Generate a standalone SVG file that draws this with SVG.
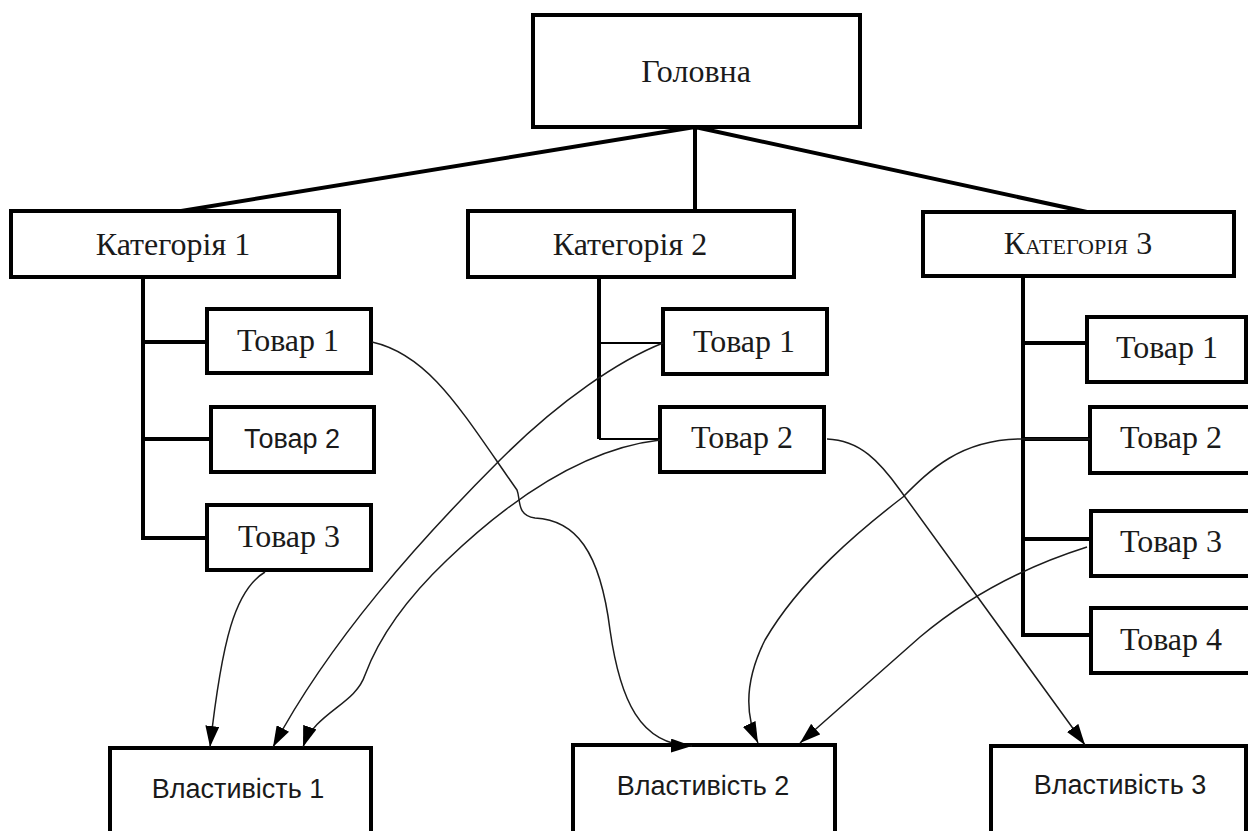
<svg xmlns="http://www.w3.org/2000/svg" width="1248" height="831" viewBox="0 0 1248 831">
  <style>
    .box { fill: #fff; stroke: #000; stroke-width: 4; }
    .tree { fill: none; stroke: #000; stroke-width: 4; stroke-linejoin: miter; }
    .thin { fill: none; stroke: #000; stroke-width: 2; }
    .link { fill: none; stroke: #1c1c1c; stroke-width: 1.5; marker-end: url(#arrow); }
    .serif { font-family: "Liberation Serif", "Times New Roman", serif; font-size: 32px; fill: #1a1a1a; text-anchor: middle; }
    .sans { font-family: "Liberation Sans", Arial, sans-serif; font-size: 27px; fill: #1a1a1a; text-anchor: middle; }
    .caps { font-variant: small-caps; }
  </style>
  <defs>
    <marker id="arrow" markerUnits="userSpaceOnUse" markerWidth="21" markerHeight="14" refX="21" refY="7" orient="auto">
      <path d="M0,0 L21,7 L0,14 z" fill="#000"/>
    </marker>
  </defs>
  <rect width="1248" height="831" fill="#fff"/>

  <!-- hierarchy lines -->
  <g id="tree-lines">
    <path class="tree" d="M695,127 L175,212 M695,127 L695,212 M695,127 L1087,212"/>
    <path class="tree" d="M143,277 L143,538 L207,538 M143,342 L207,342 M143,439 L211,439"/>
    <path class="tree" d="M599,277 L599,439"/>
    <path class="thin" d="M599,343 L663,343 M599,439 L660,439"/>
    <path class="tree" d="M1023,276 L1023,635 L1091,635 M1023,343 L1087,343 M1023,439 L1090,439 M1023,539 L1091,539"/>
  </g>

  <g id="head">
    <rect class="box" x="533" y="15" width="327" height="112"/>
    <text class="serif" x="696" y="82">Головна</text>
  </g>

  <g id="cat1">
    <rect class="box" x="11" y="211" width="328" height="66"/>
    <text class="serif" x="173" y="255">Категорія 1</text>
  </g>
  <g id="cat2">
    <rect class="box" x="468" y="211" width="326" height="66"/>
    <text class="serif" x="630" y="255">Категорія 2</text>
  </g>
  <g id="cat3">
    <rect class="box" x="923" y="212" width="311" height="64"/>
    <text class="serif caps" x="1078" y="254">Категорія 3</text>
  </g>

  <g id="c1-item1">
    <rect class="box" x="207" y="309" width="164" height="64"/>
    <text class="serif" x="288" y="351">Товар 1</text>
  </g>
  <g id="c1-item2">
    <rect class="box" x="211" y="407" width="163" height="65"/>
    <text class="sans" x="292" y="448">Товар 2</text>
  </g>
  <g id="c1-item3">
    <rect class="box" x="207" y="505" width="164" height="65"/>
    <text class="serif" x="289" y="547">Товар 3</text>
  </g>

  <g id="c2-item1">
    <rect class="box" x="663" y="309" width="164" height="65"/>
    <text class="serif" x="744" y="352">Товар 1</text>
  </g>
  <g id="c2-item2">
    <rect class="box" x="660" y="407" width="164" height="65"/>
    <text class="serif" x="742" y="448">Товар 2</text>
  </g>

  <g id="c3-item1">
    <rect class="box" x="1087" y="317" width="159" height="65"/>
    <text class="serif" x="1167" y="358">Товар 1</text>
  </g>
  <g id="c3-item2">
    <rect class="box" x="1090" y="407" width="170" height="66"/>
    <text class="serif" x="1171" y="448">Товар 2</text>
  </g>
  <g id="c3-item3">
    <rect class="box" x="1091" y="511" width="170" height="65"/>
    <text class="serif" x="1171" y="552">Товар 3</text>
  </g>
  <g id="c3-item4">
    <rect class="box" x="1091" y="608" width="170" height="65"/>
    <text class="serif" x="1171" y="650">Товар 4</text>
  </g>

  <g id="prop1">
    <rect class="box" x="110" y="748" width="261" height="100"/>
    <text class="sans" x="238" y="798">Властивість 1</text>
  </g>
  <g id="prop2">
    <rect class="box" x="573" y="745" width="262" height="100"/>
    <text class="sans" x="703" y="795">Властивість 2</text>
  </g>
  <g id="prop3">
    <rect class="box" x="991" y="746" width="255" height="100"/>
    <text class="sans" x="1120" y="794">Властивість 3</text>
  </g>

  <!-- item-to-property links -->
  <g id="connectors">
    <path class="link" d="M372,342 C430,355 462,412 517,490 C521,500 516,515 535,518 C575,520 600,550 610,630 C620,700 640,745 692,746"/>
    <path class="link" d="M265,572 C235,590 222,640 210,747"/>
    <path class="link" d="M663,343 C620,360 560,400 500,460 C420,540 330,640 273,747"/>
    <path class="link" d="M660,440 C590,448 520,490 447,560 C405,600 378,640 365,675 C355,705 315,712 303,747"/>
    <path class="link" d="M827,439 C860,440 880,462 900,490 L1085,745"/>
    <path class="link" d="M1090,439 L1020,439 C960,440 930,470 903,497 C860,530 800,580 765,640 C745,680 745,715 758,743"/>
    <path class="link" d="M1087,547 C1030,565 970,595 920,637 L800,743"/>
  </g>
</svg>
